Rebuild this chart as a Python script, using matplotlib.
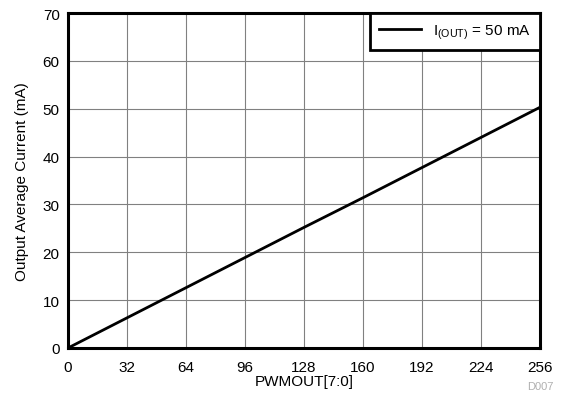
import numpy as np
import matplotlib.pyplot as plt

plt.rcParams['font.family'] = ['Liberation Sans', 'DejaVu Sans']
plt.rcParams['mathtext.fontset'] = 'custom'
plt.rcParams['mathtext.rm'] = 'Liberation Sans'

# PWM code vs output average current
pwm = [0, 32, 64, 96, 128, 160, 192, 224, 256]
current = [0, 6.3, 12.6, 18.9, 25.2, 31.4, 37.7, 44.0, 50.3]

fig = plt.figure(figsize=(5.69, 4.06), dpi=100)
ax = fig.add_axes([0.1195, 0.1404, 0.8295, 0.8251])

ax.plot(pwm, current, color='black', linewidth=2, label=r'I$_{\mathrm{(OUT)}}$ = 50 mA')

ax.set_xlim(0, 256)
ax.set_ylim(0, 70)
ax.set_xticks(np.arange(0, 257, 32))
ax.set_yticks(np.arange(0, 71, 10))
ax.grid(True, color='#808080', linewidth=0.8)
ax.tick_params(length=0, labelsize=11)
ax.tick_params(axis='x', pad=9)
ax.tick_params(axis='y', pad=6)
for s in ax.spines.values():
    s.set_linewidth(2.2)

ax.set_xlabel('PWMOUT[7:0]', fontsize=11, labelpad=0)
ax.set_ylabel('Output Average Current (mA)', fontsize=11, labelpad=10)

leg = ax.legend(loc='upper right', fontsize=11, fancybox=False, framealpha=1,
                borderaxespad=0, handlelength=2.7, borderpad=0.6)
leg.get_frame().set_edgecolor('black')
leg.get_frame().set_linewidth(2)

fig.text(0.972, 0.035, 'D007', fontsize=8, color='#b0b0b0', ha='right', va='bottom')

fig.savefig('out.png', dpi=100)
